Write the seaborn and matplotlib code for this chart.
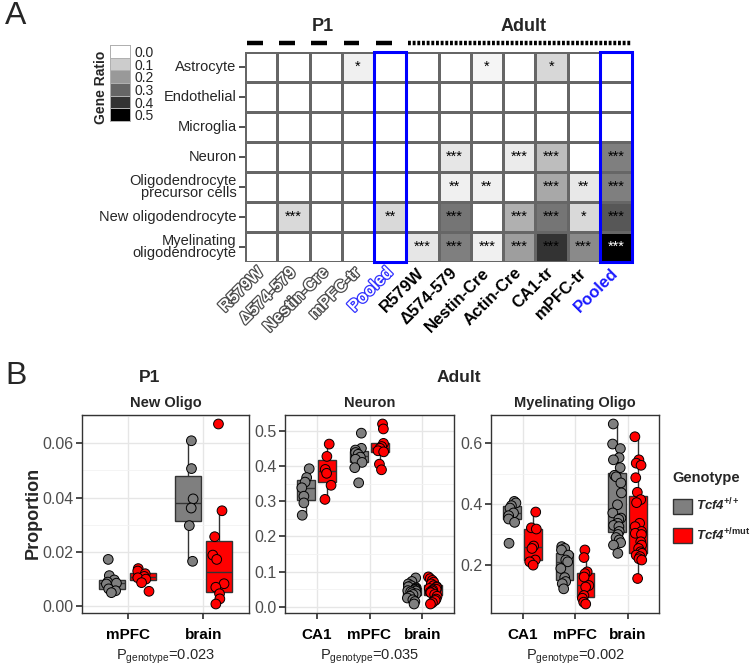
import numpy as np
import pandas as pd
import matplotlib.pyplot as plt
import matplotlib.patheffects as pe
from matplotlib.patches import Rectangle, Patch
from matplotlib.ticker import MultipleLocator, FormatStrFormatter
import seaborn as sns

sns.set_theme(style="white")
plt.rcParams['font.family'] = ['Liberation Sans', 'DejaVu Sans']
plt.rcParams['mathtext.fontset'] = 'custom'
plt.rcParams['mathtext.rm'] = 'Liberation Sans'
plt.rcParams['mathtext.it'] = 'Liberation Sans:italic'
plt.rcParams['mathtext.bf'] = 'Liberation Sans:bold'
plt.rcParams['mathtext.bfit'] = 'Liberation Sans:bold:italic'

# ---- panel A data ----
datasets = ["R579W", "Δ574-579", "Nestin-Cre", "mPFC-tr", "Pooled",
            "R579W", "Δ574-579", "Nestin-Cre", "Actin-Cre", "CA1-tr", "mPFC-tr", "Pooled"]
n_p1 = 5
cell_types = ["Astrocyte", "Endothelial", "Microglia", "Neuron",
              "Oligodendrocyte\nprecursor cells", "New oligodendrocyte",
              "Myelinating\noligodendrocyte"]
gene_ratio = [
    [0, 0, 0, 0.03, 0, 0, 0, 0.02, 0, 0.08, 0, 0],
    [0, 0, 0, 0, 0, 0, 0, 0, 0, 0, 0, 0],
    [0, 0, 0, 0, 0, 0, 0, 0, 0, 0, 0, 0],
    [0, 0, 0, 0, 0, 0, 0.05, 0, 0.04, 0.13, 0, 0.25],
    [0, 0, 0, 0, 0, 0, 0.03, 0.03, 0, 0.17, 0.045, 0.25],
    [0, 0.075, 0, 0, 0.075, 0, 0.27, 0, 0.155, 0.27, 0.075, 0.33],
    [0, 0, 0, 0, 0, 0.05, 0.25, 0.03, 0.19, 0.40, 0.23, 0.50],
]
signif = [
    ["", "", "", "*", "", "", "", "*", "", "*", "", ""],
    ["", "", "", "", "", "", "", "", "", "", "", ""],
    ["", "", "", "", "", "", "", "", "", "", "", ""],
    ["", "", "", "", "", "", "***", "", "***", "***", "", "***"],
    ["", "", "", "", "", "", "**", "**", "", "***", "**", "***"],
    ["", "***", "", "", "**", "", "***", "", "***", "***", "*", "***"],
    ["", "", "", "", "", "***", "***", "***", "***", "***", "***", "***"],
]
legend_levels = [0.0, 0.1, 0.2, 0.3, 0.4, 0.5]

# ---- panel B data ----
genotypes = ["Tcf4+/+", "Tcf4+/mut"]
new_oligo_regions = ["mPFC", "brain"]
new_oligo_wt = [[0.0171, 0.0111, 0.0095, 0.0087, 0.0083, 0.0080, 0.0062, 0.0055, 0.0048],
                [0.061, 0.0507, 0.0395, 0.0361, 0.0296, 0.0164]]
new_oligo_mut = [[0.0137, 0.0128, 0.0118, 0.0108, 0.0103, 0.0098, 0.0085, 0.0053],
                 [0.0672, 0.0351, 0.0255, 0.0187, 0.0171, 0.0081, 0.0068, 0.0044, 0.0025, 0.0006]]

adult_regions = ["CA1", "mPFC", "brain"]
neuron_wt = [[0.392, 0.367, 0.354, 0.338, 0.314, 0.295, 0.26],
             [0.493, 0.45, 0.445, 0.438, 0.433, 0.425, 0.419, 0.41, 0.395, 0.352],
             [0.082, 0.072, 0.065, 0.06, 0.057, 0.054, 0.052, 0.05, 0.048, 0.046,
              0.045, 0.043, 0.04, 0.037, 0.035, 0.03, 0.025, 0.02, 0.015, 0.008]]
neuron_mut = [[0.462, 0.427, 0.39, 0.379, 0.345, 0.305],
              [0.519, 0.505, 0.464, 0.455, 0.45, 0.443, 0.44, 0.405, 0.389],
              [0.085, 0.08, 0.075, 0.07, 0.065, 0.06, 0.057, 0.055, 0.052, 0.05,
               0.048, 0.045, 0.042, 0.04, 0.035, 0.03, 0.022, 0.018, 0.012, 0.008]]
myelin_wt = [[0.409, 0.404, 0.395, 0.387, 0.371, 0.362, 0.351, 0.34, 0.271],
             [0.26, 0.254, 0.249, 0.232, 0.216, 0.21, 0.188, 0.158, 0.145, 0.138, 0.121],
             [0.664, 0.598, 0.583, 0.553, 0.546, 0.52, 0.495, 0.49, 0.47, 0.437, 0.398, 0.371,
              0.354, 0.35, 0.337, 0.33, 0.326, 0.31, 0.3, 0.29, 0.282, 0.273, 0.265, 0.238]]
myelin_mut = [[0.374, 0.322, 0.318, 0.262, 0.254, 0.216, 0.21, 0.199],
              [0.249, 0.224, 0.177, 0.171, 0.16, 0.132, 0.127, 0.099, 0.09, 0.077, 0.071],
              [0.622, 0.546, 0.535, 0.528, 0.487, 0.439, 0.415, 0.405, 0.337, 0.326, 0.31, 0.304,
               0.30, 0.276, 0.265, 0.254, 0.243, 0.238, 0.232, 0.227, 0.22, 0.216, 0.155]]
p_values = ["0.023", "0.035", "0.002"]


def make_df(regions, wt, mut):
    rows = []
    for reg, a, b in zip(regions, wt, mut):
        rows += [(reg, genotypes[0], v) for v in a]
        rows += [(reg, genotypes[1], v) for v in b]
    return pd.DataFrame(rows, columns=["region", "genotype", "value"])


fig = plt.figure(figsize=(7.5, 6.72), dpi=100)
W, H = 750, 672


def px_axes(x0, y0, x1, y1):
    return fig.add_axes([x0 / W, 1 - y1 / H, (x1 - x0) / W, (y1 - y0) / H])


# ---------------- Panel A ----------------
gray_cmap = sns.blend_palette(["white", "black"], as_cmap=True)
ratio = np.array(gene_ratio)
hm = px_axes(245, 52, 632, 262)
sns.heatmap(ratio, cmap=gray_cmap, vmin=0, vmax=0.5, annot=np.array(signif), fmt="",
            annot_kws={"fontsize": 10.5}, linewidths=0.9, linecolor="#666666",
            cbar=False, xticklabels=datasets, yticklabels=cell_types, ax=hm)
for txt, v in zip(hm.texts, ratio.flat):
    txt.set_color("white" if v >= 0.45 else "black")

hm.tick_params(axis="y", length=4, width=1.2, color="#333333", pad=2, labelsize=10.5)
hm.set_yticklabels(cell_types, rotation=0, linespacing=0.85)
hm.tick_params(axis="y", left=True)
hm.tick_params(axis="x", length=0, pad=6)
hm.set_xticklabels(datasets, rotation=45, ha="right", va="center", rotation_mode="anchor")
for i, lab in enumerate(hm.get_xticklabels()):
    lab.set_fontsize(12)
    lab.set_fontweight("bold")
    pooled = datasets[i] == "Pooled"
    if i < n_p1:
        lab.set_color("white")
        lab.set_path_effects([pe.withStroke(linewidth=1.8,
                                            foreground="#3333ff" if pooled else "#4d4d4d")])
    else:
        lab.set_color("#1a1aff" if pooled else "black")

for c in [n_p1 - 1, len(datasets) - 1]:
    hm.add_patch(Rectangle((c, 0), 1, len(cell_types), fill=False, ec="#0000ff",
                           lw=2.2, clip_on=False, zorder=5))

# group bars above the heatmap
for c in range(n_p1):
    hm.plot([c + 0.06, c + 0.55], [-0.3, -0.3], color="black", lw=3.2,
            solid_capstyle="butt", clip_on=False)
hm.plot([n_p1 + 0.05, len(datasets)], [-0.3, -0.3], color="black", lw=3.2,
        linestyle=(0, (0.65, 0.4)), dash_capstyle="butt", clip_on=False)
hm.text(2.4, -0.85, "P1", ha="center", va="center", fontsize=13, fontweight="bold")
hm.text(8.65, -0.85, "Adult", ha="center", va="center", fontsize=13, fontweight="bold")

# gene ratio key
lax = px_axes(110, 45, 130, 121)
sns.heatmap(np.array(legend_levels).reshape(-1, 1), cmap=gray_cmap, vmin=0, vmax=0.5,
            cbar=False, linewidths=0.7, linecolor="#b0b0b0", ax=lax,
            xticklabels=False, yticklabels=[f"{v:.1f}" for v in legend_levels])
lax.yaxis.tick_right()
lax.tick_params(axis="y", length=0, pad=3, labelsize=10, labelrotation=0)
for s in lax.spines.values():
    s.set_visible(True)
    s.set_color("#b0b0b0")
    s.set_linewidth(0.7)
fig.text(101 / W, 1 - 87 / H, "Gene Ratio", rotation=90, ha="center", va="center",
         fontsize=10, fontweight="bold")

fig.text(5 / W, 1 - 16 / H, "A", fontsize=23, ha="left", va="center")
fig.text(5 / W, 1 - 376 / H, "B", fontsize=23, ha="left", va="center")

# ---------------- Panel B ----------------
palette = {genotypes[0]: "#7f7f7f", genotypes[1]: "#ff0000"}
panels = [
    ("New Oligo", new_oligo_regions, new_oligo_wt, new_oligo_mut, (82, 249), 0.02, "%.2f"),
    ("Neuron", adult_regions, neuron_wt, neuron_mut, (285, 454), 0.1, "%.1f"),
    ("Myelinating Oligo", adult_regions, myelin_wt, myelin_mut, (491, 659), 0.2, "%.1f"),
]
for k, (title, regions, wt, mut, (x0, x1), step, fmt) in enumerate(panels):
    ax = px_axes(x0, 415, x1, 613)
    df = make_df(regions, wt, mut)
    sns.boxplot(data=df, x="region", y="value", hue="genotype", order=regions,
                hue_order=genotypes, palette=palette, saturation=1, width=0.8, gap=0.15,
                linecolor="#333333", linewidth=1, showfliers=False, legend=False,
                capprops={"linewidth": 0}, ax=ax)
    sns.stripplot(data=df, x="region", y="value", hue="genotype", order=regions,
                  hue_order=genotypes, palette=palette, dodge=True, jitter=0.17, size=7,
                  edgecolor="black", linewidth=0.7, legend=False, zorder=3, ax=ax)
    ax.set_xlim(-0.6, len(regions) - 0.4)
    ax.yaxis.set_major_locator(MultipleLocator(step))
    ax.yaxis.set_minor_locator(MultipleLocator(step / 2))
    ax.yaxis.set_major_formatter(FormatStrFormatter(fmt))
    ax.set_axisbelow(True)
    ax.grid(True, which="major", color="#e6e6e6", lw=1)
    ax.grid(True, which="minor", axis="y", color="#f2f2f2", lw=0.6)
    for s in ax.spines.values():
        s.set_visible(True)
        s.set_color("#333333")
        s.set_linewidth(1)
    ax.tick_params(axis="y", which="major", left=True, length=4, color="#333333",
                   labelsize=11.5, labelcolor="#4d4d4d", pad=2)
    ax.tick_params(axis="y", which="minor", left=False)
    ax.tick_params(axis="x", bottom=True, length=4, color="#333333", pad=7)
    for lab in ax.get_xticklabels():
        lab.set_fontweight("bold")
        lab.set_fontsize(11)
        lab.set_color("black")
    ax.set_xlabel("")
    ax.set_ylabel("")
    ax.set_title(title, fontsize=10.5, fontweight="bold", pad=6)
    ax.text(0.5, -0.22, r"P$_{\mathrm{genotype}}$=" + p_values[k], transform=ax.transAxes,
            ha="center", va="center", fontsize=10.5)

fig.text(150 / W, 1 - 378 / H, "P1", ha="center", va="center", fontsize=12.5, fontweight="bold")
fig.text(459 / W, 1 - 378 / H, "Adult", ha="center", va="center", fontsize=12.5, fontweight="bold")
fig.text(33 / W, 1 - 513 / H, "Proportion", rotation=90, ha="center", va="center",
         fontsize=13, fontweight="bold")

handles = [Patch(facecolor=palette[g], edgecolor="#333333", lw=1) for g in genotypes]
labels = [r"$\mathbfit{Tcf4}^{\mathbf{+/+}}$", r"$\mathbfit{Tcf4}^{\mathbf{+/mut}}$"]
leg = fig.legend(handles, labels, title="Genotype", loc="upper left",
                 bbox_to_anchor=(670 / W, 1 - 468 / H), frameon=False, fontsize=9.5,
                 handlelength=1.5, handleheight=1.4, handletextpad=0.25, labelspacing=0.95,
                 borderpad=0.2, borderaxespad=0, alignment="left")
leg.get_title().set_fontweight("bold")
leg.get_title().set_fontsize(10.5)

fig.savefig("out.png", dpi=100)
